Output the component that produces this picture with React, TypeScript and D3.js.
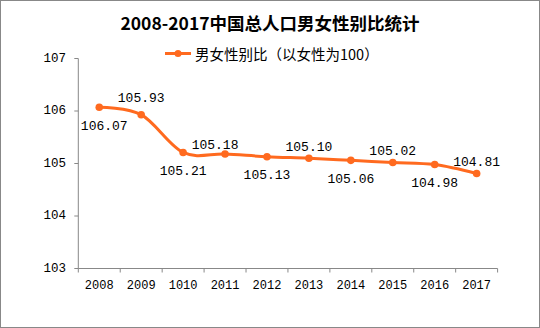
import React from "react";
import * as d3 from "d3";

const years = ["2008", "2009", "1010", "2011", "2012", "2013", "2014", "2015", "2016", "2017"];
const ratios = [106.07, 105.93, 105.21, 105.18, 105.13, 105.1, 105.06, 105.02, 104.98, 104.81];
const yTicks = [103, 104, 105, 106, 107];
const title = "2008-2017中国总人口男女性别比统计";
const seriesName = "男女性别比（以女性为100）";

const W = 540;
const H = 328;
const COLOR = "#FF6A1F";
const AXIS = "#888888";
const NUM_FONT = "'Liberation Mono', 'DejaVu Sans Mono', monospace";
const CJK_FONT = "'Noto Sans CJK SC', sans-serif";

export default function App() {
  const x = d3.scaleBand<string>().domain(years).range([78.3, 497.6]).padding(0);
  const y = d3.scaleLinear().domain([103, 107]).range([268.5, 58.5]);
  const cx = (d: string) => (x(d) ?? 0) + x.bandwidth() / 2;

  const pts: [number, number][] = years.map((d, i) => [cx(d), y(ratios[i])]);
  const line = d3.line().curve(d3.curveCardinal.tension(0))(pts) ?? "";

  const labelOffset = (i: number): [number, number] => {
    if (i === 0) return [5, 19.5];
    if (i === 1) return [0, -16];
    if (i === 3) return [-10, -9];
    return i % 2 === 0 ? [0, 19] : [0, -11];
  };

  const [x0, x1] = x.range();
  const [yb, yt] = y.range();

  return (
    <svg
      width={W}
      height={H}
      style={{ position: "absolute", left: 0, top: 0, background: "#fff" }}
    >
      <rect x={0.5} y={0.5} width={W - 1} height={H - 1} fill="#fff" stroke={AXIS} strokeWidth={1} />
      <text
        x={270}
        y={22}
        textAnchor="middle"
        dominantBaseline="central"
        fontFamily={CJK_FONT}
        fontWeight="bold"
        fontSize={17.5}
        fill="#000"
      >
        {title}
      </text>

      {/* legend */}
      <line x1={165} x2={191} y1={53.5} y2={53.5} stroke={COLOR} strokeWidth={3} />
      <circle cx={178} cy={53.5} r={3.5} fill={COLOR} />
      <text
        x={195}
        y={53.5}
        dominantBaseline="central"
        fontFamily={CJK_FONT}
        fontSize={14.5}
        fill="#000"
      >
        {seriesName}
      </text>

      {/* y axis */}
      <line x1={x0} x2={x0} y1={yt} y2={yb} stroke={AXIS} strokeWidth={1} />
      {yTicks.map((t) => (
        <g key={t}>
          <line x1={x0 - 4} x2={x0} y1={y(t)} y2={y(t)} stroke={AXIS} strokeWidth={1} />
          <text
            x={66}
            y={y(t)}
            textAnchor="end"
            dominantBaseline="central"
            fontFamily={NUM_FONT}
            fontSize={12.5}
            fill="#000"
          >
            {t}
          </text>
        </g>
      ))}

      {/* x axis */}
      <line x1={x0} x2={x1} y1={yb} y2={yb} stroke={AXIS} strokeWidth={1} />
      {years.map((d) => (
        <line
          key={"t" + d}
          x1={x(d)}
          x2={x(d)}
          y1={yb}
          y2={yb + 4}
          stroke={AXIS}
          strokeWidth={1}
        />
      ))}
      <line x1={x1} x2={x1} y1={yb} y2={yb + 4} stroke={AXIS} strokeWidth={1} />
      {years.map((d) => (
        <text
          key={"l" + d}
          x={cx(d)}
          y={286}
          textAnchor="middle"
          dominantBaseline="central"
          fontFamily={NUM_FONT}
          fontSize={12}
          fill="#000"
        >
          {d}
        </text>
      ))}

      {/* series */}
      <path d={line} fill="none" stroke={COLOR} strokeWidth={3} strokeLinejoin="round" />
      {pts.map(([px, py], i) => (
        <circle key={"c" + i} cx={px} cy={py} r={3.8} fill={COLOR} />
      ))}
      {pts.map(([px, py], i) => {
        const [dx, dy] = labelOffset(i);
        return (
          <text
            key={"v" + i}
            x={px + dx}
            y={py + dy}
            textAnchor="middle"
            dominantBaseline="central"
            fontFamily={NUM_FONT}
            fontSize={13}
            fill="#000"
          >
            {ratios[i].toFixed(2)}
          </text>
        );
      })}
    </svg>
  );
}
